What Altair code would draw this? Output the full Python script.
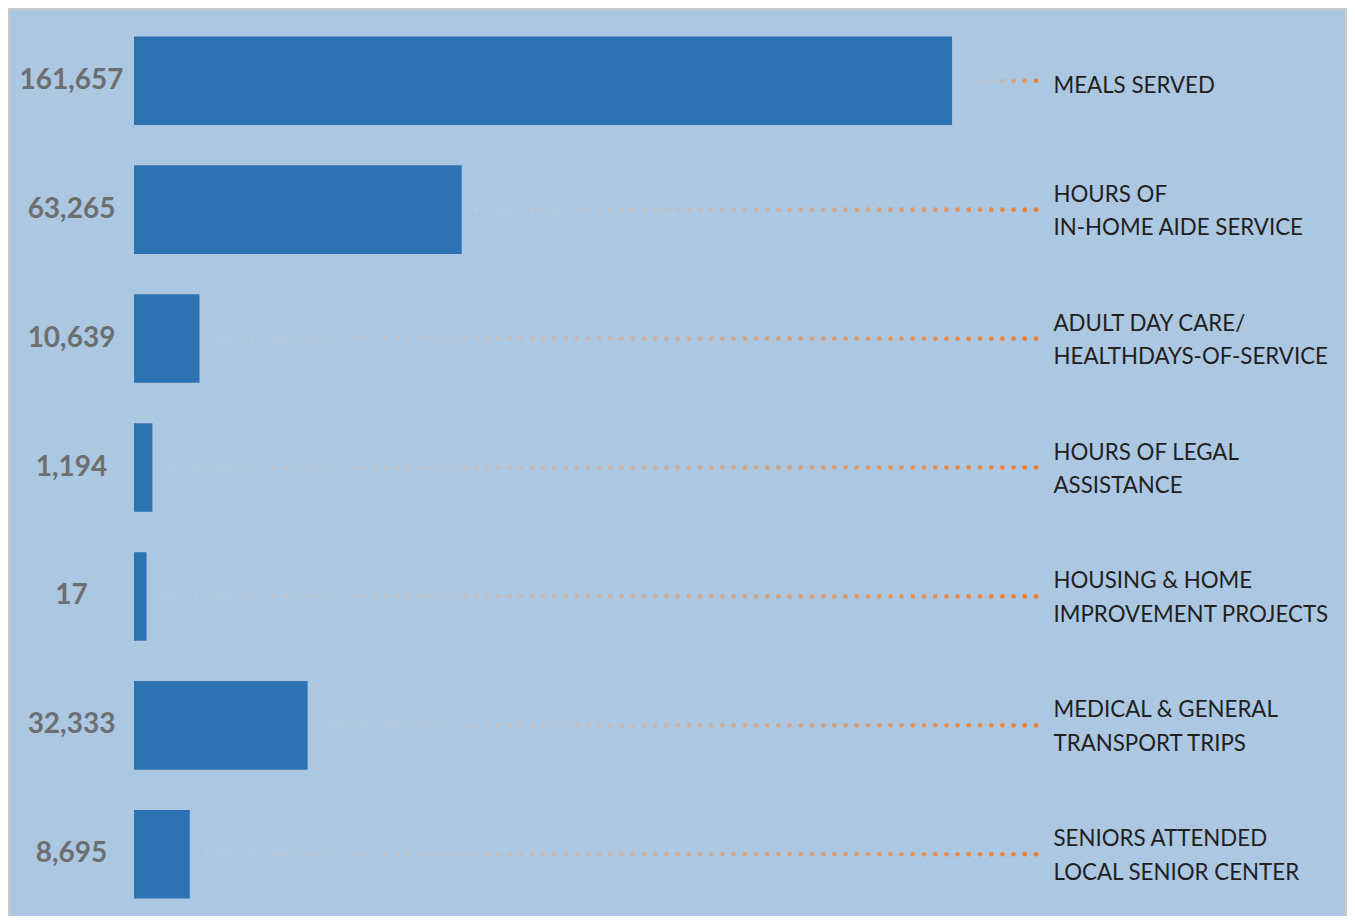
import altair as alt
import pandas as pd

# ---- data ----
values = [161657, 63265, 10639, 1194, 17, 32333, 8695]
value_text = ["161,657", "63,265", "10,639", "1,194", "17", "32,333", "8,695"]
label_lines = [
    ["MEALS SERVED"],
    ["HOURS OF", "IN-HOME AIDE SERVICE"],
    ["ADULT DAY CARE/", "HEALTHDAYS-OF-SERVICE"],
    ["HOURS OF LEGAL", "ASSISTANCE"],
    ["HOUSING & HOME", "IMPROVEMENT PROJECTS"],
    ["MEDICAL & GENERAL", "TRANSPORT TRIPS"],
    ["SENIORS ATTENDED", "LOCAL SENIOR CENTER"],
]

keys = [vt + "|" + "|".join(lines) for vt, lines in zip(value_text, label_lines)]
df = pd.DataFrame({"key": keys, "value": values})

# ---- style / layout ----
BG = "#abc7e2"
BAR = "#2d72b2"
ORANGE = "#f07d2a"
W, H = 906, 875
PAD = {"left": 126, "top": 22, "right": 307, "bottom": 11}
XMIN, XMAX = -2500, 179300
K = W / (XMAX - XMIN)          # pixels per unit
STEP = 11.2 / K                # dot spacing in data units
GAP = 14 / K                   # gap between bar end and first dot
LEND = XMAX - 4 / K            # last dot position

xscale = alt.Scale(domain=[XMIN, XMAX], nice=False, zero=False)
yscale = alt.Scale(paddingInner=0.313, paddingOuter=0.05)

bars = alt.Chart(df).mark_bar(color=BAR).encode(
    y=alt.Y(
        "key:N", sort=keys, scale=yscale, title=None,
        axis=alt.Axis(
            orient="left", labelExpr="split(datum.label, '|')[0]",
            labelAlign="center", labelBaseline="middle", labelPadding=63,
            labelFont="Lato", labelFontSize=28, labelFontWeight="bold",
            labelColor="#6e6e6e", labelLimit=0, ticks=False, domain=False,
            grid=False,
        ),
    ),
    x=alt.X("value:Q", scale=xscale, axis=None),
    x2=alt.datum(XMIN),
)

dots = (
    alt.Chart(df)
    .transform_calculate(lstart=f"datum.value + {GAP}", lend=f"{LEND}")
    .transform_calculate(n=f"floor((datum.lend - datum.lstart) / {STEP})")
    .transform_calculate(idx="sequence(0, datum.n + 1)")
    .transform_flatten(["idx"])
    .transform_calculate(
        dx=f"datum.lend - datum.idx * {STEP}",
        t="1 - datum.idx / datum.n",
    )
    .mark_circle(size=22, opacity=1)
    .encode(
        y=alt.Y(
            "key:N", sort=keys, scale=yscale, title=None,
            axis=alt.Axis(
                orient="right", labelExpr="slice(split(datum.label, '|'), 1)",
                labelAlign="left", labelBaseline="middle", labelPadding=13,
                labelFont="Lato", labelFontSize=22.3, labelLineHeight=33.5,
                labelColor="#231f20", labelLimit=0, ticks=False, domain=False,
                grid=False,
                labelOffset={
                    "condition": {
                        "test": "length(split(datum.label, '|')) <= 2",
                        "value": 5,
                    },
                    "value": -15,
                },
            ),
        ),
        x=alt.X("dx:Q", scale=xscale, axis=None),
        color=alt.Color(
            "t:Q", legend=None,
            scale=alt.Scale(domain=[0, 1], range=["#cdd2d9", ORANGE], interpolate="rgb"),
        ),
        opacity=alt.Opacity(
            "t:Q", legend=None, scale=alt.Scale(domain=[0, 1], range=[0.25, 1])
        ),
    )
)

frame_df = pd.DataFrame({"f": [0]})
frame = alt.Chart(frame_df).mark_rect(fill=None, stroke="#c9c9c9", strokeWidth=2).encode(
    x=alt.value(-125), x2=alt.value(1212), y=alt.value(-21), y2=alt.value(960)
)

chart = (
    alt.layer(frame, bars, dots)
    .resolve_axis(y="independent")
    .properties(
        width=W, height=H, padding=PAD,
        autosize=alt.AutoSizeParams(type="none"),
        background=BG,
    )
    .configure_view(stroke=None)
)

chart.save("out.html", embed_options={"renderer": "svg", "actions": False})
